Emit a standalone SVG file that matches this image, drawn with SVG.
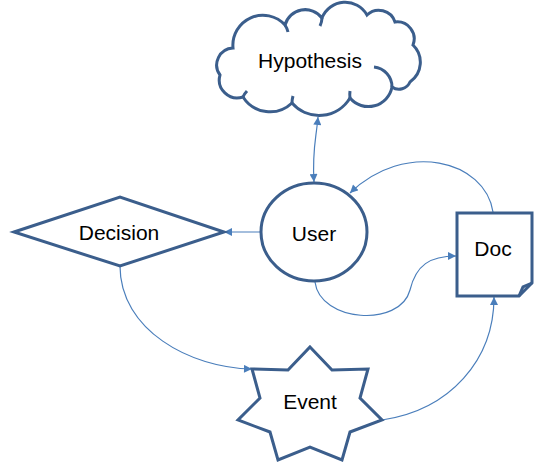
<svg xmlns="http://www.w3.org/2000/svg" width="536" height="462" viewBox="0 0 536 462">
<defs>
<style>
.node{fill:#fff;stroke:#3b5e8c;stroke-width:3;stroke-linejoin:miter}
.deco{fill:none;stroke:#3b5e8c;stroke-width:3}
.conn{fill:none;stroke:#4a7ebb;stroke-width:1.2}
.lbl{font-family:"Liberation Sans",Arial,sans-serif;font-size:21px;fill:#000;text-anchor:middle}
</style>
<marker id="ah" viewBox="0 0 10 10" refX="10" refY="5" markerWidth="9" markerHeight="8" markerUnits="userSpaceOnUse" orient="auto">
<path d="M0,0 L10,5 L0,10 Z" fill="#4a7ebb"/>
</marker>
<marker id="ahs" viewBox="0 0 10 10" refX="0" refY="5" markerWidth="9" markerHeight="8" markerUnits="userSpaceOnUse" orient="auto">
<path d="M10,0 L0,5 L10,10 Z" fill="#4a7ebb"/>
</marker>
</defs>
<rect width="536" height="462" fill="#fff"/>
<g id="connectors">
<path class="conn" d="M318,117 C316,140 312,150 314,182" marker-start="url(#ahs)" marker-end="url(#ah)"/>
<path class="conn" d="M261,232 L224,232" marker-end="url(#ah)"/>
<path class="conn" d="M120,266 C120,330 190,368 252,369" marker-end="url(#ah)"/>
<path class="conn" d="M382,420 C450,410 494,360 494,297" marker-end="url(#ah)"/>
<path class="conn" d="M493,212 C485,160 405,140 350,193" marker-end="url(#ah)"/>
<path class="conn" d="M315,282 C320,322 400,328 410,290 C416,265 430,256 456,256" marker-end="url(#ah)"/>
</g>
<g id="hypothesis">
<path class="node" d="M233,48 A30,30 0 0 1 285,25 A21,21 0 0 1 322,18 A25,25 0 0 1 367,15 A17,17 0 0 1 395,22 A17,17 0 0 1 413,45 A24,24 0 0 1 410,82 A12,12 0 0 1 392,87 A24,24 0 0 1 350,98 A36,36 0 0 1 292,103 A32,32 0 0 1 243,97 A18,18 0 0 1 220,75 A17,17 0 0 1 233,48 Z"/>
<path class="deco" d="M374,67 A20,20 0 0 1 392,87"/>
<path class="deco" d="M285,25 A22,22 0 0 1 288,32"/>
<path class="deco" d="M322,18 A20,20 0 0 1 320,26"/>
<path class="deco" d="M243,97 A20,20 0 0 1 247,91"/>
<path class="deco" d="M292,103 A25,25 0 0 1 293,96"/>
<path class="deco" d="M350,98 A25,25 0 0 1 350,91"/>
<text class="lbl" x="310" y="68">Hypothesis</text>
</g>
<g id="user">
<ellipse class="node" cx="314" cy="232" rx="53" ry="49"/>
<text class="lbl" x="314" y="241">User</text>
</g>
<g id="decision">
<path class="node" d="M14,232 L120,197 L224,232 L120,266 Z"/>
<text class="lbl" x="119" y="240">Decision</text>
</g>
<g id="doc">
<path class="node" d="M457,213 H532 V283 L519,296 H457 Z"/>
<path class="deco" d="M519,296 L523,287 L532,283" stroke-width="2.5"/>
<text class="lbl" x="493" y="256">Doc</text>
</g>
<g id="event">
<path class="node" d="M310,347 L332,370 L368,369 L360,398 L382,420 L350,432 L342,460 L310,447 L278,460 L270,432 L238,420 L260,398 L252,369 L288,370 Z"/>
<text class="lbl" x="310" y="409">Event</text>
</g>
</svg>
